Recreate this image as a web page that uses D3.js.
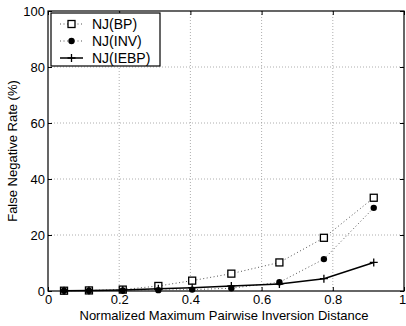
<!DOCTYPE html>
<html><head><meta charset="utf-8">
<script src="https://cdn.jsdelivr.net/npm/d3@7"></script>
<style>body{margin:0;background:#fff}svg{display:block}text{font-family:"Liberation Sans",Arial,sans-serif}</style>
</head><body><svg id="c" width="406" height="326"></svg>
<script>
const xs = [0.045, 0.115, 0.21, 0.31, 0.405, 0.515, 0.65, 0.775, 0.915];
const bp = [0.1, 0.2, 0.5, 1.8, 3.7, 6.2, 10.2, 19.0, 33.3];
const inv = [0.1, 0.1, 0.2, 0.3, 0.5, 1.0, 3.1, 11.4, 29.7];
const iebp = [0.1, 0.2, 0.4, 0.8, 1.2, 1.8, 2.5, 4.4, 10.2];
const xTicks = [0, 0.2, 0.4, 0.6, 0.8, 1];
const yTicks = [0, 20, 40, 60, 80, 100];
const seriesNames = ["NJ(BP)", "NJ(INV)", "NJ(IEBP)"];

const svg = d3.select("#c");
const L = 48, R = 404, T = 11, B = 291;
const x = d3.scaleLinear().domain([0, 1]).range([L, R]);
const y = d3.scaleLinear().domain([0, 100]).range([B, T]);

// grid
const g = svg.append("g");
g.selectAll(".gx").data(xTicks.slice(1, -1)).join("line")
  .attr("x1", d => x(d)).attr("x2", d => x(d)).attr("y1", T).attr("y2", B)
  .attr("stroke", "#999").attr("stroke-width", 0.8).attr("stroke-dasharray", "1,2");
g.selectAll(".gy").data(yTicks.slice(1, -1)).join("line")
  .attr("y1", d => y(d)).attr("y2", d => y(d)).attr("x1", L).attr("x2", R)
  .attr("stroke", "#999").attr("stroke-width", 0.8).attr("stroke-dasharray", "1,2");

// axes
const fs = 13;
const ax = svg.append("g").attr("transform", `translate(0,${B})`)
  .call(d3.axisBottom(x).tickValues(xTicks).tickFormat(d3.format("")).tickSizeInner(-4).tickSizeOuter(0).tickPadding(4));
const ay = svg.append("g").attr("transform", `translate(${L},0)`)
  .call(d3.axisLeft(y).tickValues(yTicks).tickSizeInner(-4).tickSizeOuter(0).tickPadding(3));
const axT = svg.append("g").attr("transform", `translate(0,${T})`)
  .call(d3.axisTop(x).tickValues(xTicks).tickFormat("").tickSizeInner(-4).tickSizeOuter(0));
const ayR = svg.append("g").attr("transform", `translate(${R},0)`)
  .call(d3.axisRight(y).tickValues(yTicks).tickFormat("").tickSizeInner(-4).tickSizeOuter(0));
[ax, ay, axT, ayR].forEach(a => {
  a.select(".domain").remove();
  a.selectAll("line").attr("stroke", "#000");
  a.selectAll("text").attr("fill", "#000").style("font-size", fs + "px").style("font-family", '"Liberation Sans",Arial,sans-serif');
});
ax.selectAll(".tick text").filter(d => d === 1).attr("dx", -2);
svg.append("rect").attr("x", L).attr("y", T).attr("width", R - L).attr("height", B - T)
  .attr("fill", "none").attr("stroke", "#000").attr("stroke-width", 1.2);

const line = d3.line().x(d => x(d[0])).y(d => y(d[1]));
const mk = (arr) => xs.map((v, i) => [v, arr[i]]);

function drawSeries(data, dotted, marker) {
  svg.append("path").datum(data).attr("d", line).attr("fill", "none")
    .attr("stroke", dotted ? "#555" : "#000").attr("stroke-width", dotted ? 1 : 1.5)
    .attr("stroke-dasharray", dotted ? "1,2.5" : null);
  const m = svg.append("g");
  data.forEach(d => drawMarker(m, x(d[0]), y(d[1]), marker));
}
function drawMarker(m, cx, cy, type) {
  if (type === "square") {
    m.append("rect").attr("x", cx - 3.5).attr("y", cy - 3.5).attr("width", 7).attr("height", 7)
      .attr("fill", "#fff").attr("stroke", "#000").attr("stroke-width", 1.3);
  } else if (type === "circle") {
    m.append("circle").attr("cx", cx).attr("cy", cy).attr("r", 3.2).attr("fill", "#000");
  } else {
    m.append("path").attr("d", `M${cx - 4},${cy}H${cx + 4}M${cx},${cy - 4}V${cy + 4}`)
      .attr("stroke", "#000").attr("stroke-width", 1.3);
  }
}
drawSeries(mk(bp), true, "square");
drawSeries(mk(inv), true, "circle");
drawSeries(mk(iebp), false, "plus");

// legend
const lg = svg.append("g");
lg.append("rect").attr("x", 51).attr("y", 13).attr("width", 109).attr("height", 53)
  .attr("fill", "#fff").attr("stroke", "#000").attr("stroke-width", 1.2);
const types = ["square", "circle", "plus"];
seriesNames.forEach((n, i) => {
  const yy = 24 + i * 17;
  lg.append("line").attr("x1", 60).attr("x2", 83).attr("y1", yy).attr("y2", yy)
    .attr("stroke", i < 2 ? "#555" : "#000").attr("stroke-width", i < 2 ? 1 : 1.5)
    .attr("stroke-dasharray", i < 2 ? "1,2.5" : null);
  drawMarker(lg, 71.5, yy, types[i]);
  lg.append("text").attr("x", 92).attr("y", yy + 5).text(n).style("font-size", "14px");
});

svg.append("text").attr("x", (L + R) / 2 - 2).attr("y", 320).attr("text-anchor", "middle")
  .style("font-size", "13px").text("Normalized Maximum Pairwise Inversion Distance");
svg.append("text").attr("transform", `translate(17,${(T + B) / 2}) rotate(-90)`).attr("text-anchor", "middle")
  .style("font-size", "13px").text("False Negative Rate (%)");
</script></body></html>
